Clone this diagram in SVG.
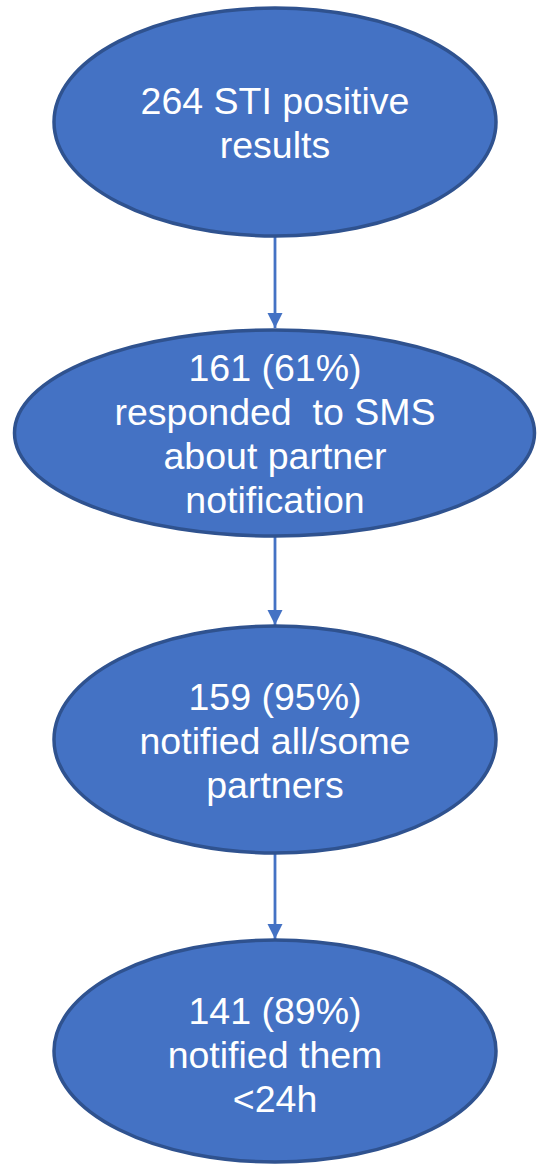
<svg xmlns="http://www.w3.org/2000/svg" width="537" height="1167" viewBox="0 0 537 1167">
<style>
.node{fill:#4472C4;stroke:#2F528F;stroke-width:3.5}
.lbl{font-family:"Liberation Sans",Arial,sans-serif;font-size:37.5px;fill:#FFFFFF;text-anchor:middle}
.conn{stroke:#4472C4;stroke-width:2.8;fill:none}
</style>
<defs>
<marker id="arr" viewBox="0 0 10 10" refX="10" refY="5" markerWidth="5.4" markerHeight="5.4" markerUnits="strokeWidth" orient="auto">
<path d="M0,0 L10,5 L0,10 Z" fill="#4472C4"/>
</marker>
</defs>
<g id="connectors">
<line class="conn" x1="275" y1="237" x2="275" y2="328" marker-end="url(#arr)"/>
<line class="conn" x1="275" y1="537" x2="275" y2="625" marker-end="url(#arr)"/>
<line class="conn" x1="275" y1="854" x2="275" y2="939" marker-end="url(#arr)"/>
</g>
<g id="node1">
<ellipse class="node" cx="275" cy="122" rx="221" ry="114"/>
<text class="lbl" x="275" y="114">264 STI positive</text>
<text class="lbl" x="275" y="158">results</text>
</g>
<g id="node2">
<ellipse class="node" cx="274.5" cy="433" rx="260" ry="103"/>
<text class="lbl" x="275" y="381">161 (61%)</text>
<text class="lbl" x="275" y="425" xml:space="preserve">responded  to SMS</text>
<text class="lbl" x="275" y="469">about partner</text>
<text class="lbl" x="275" y="513">notification</text>
</g>
<g id="node3">
<ellipse class="node" cx="275" cy="739.5" rx="221" ry="113.5"/>
<text class="lbl" x="275" y="710">159 (95%)</text>
<text class="lbl" x="275" y="754">notified all/some</text>
<text class="lbl" x="275" y="798">partners</text>
</g>
<g id="node4">
<ellipse class="node" cx="275" cy="1051" rx="221" ry="111"/>
<text class="lbl" x="275" y="1024">141 (89%)</text>
<text class="lbl" x="275" y="1068">notified them</text>
<text class="lbl" x="275" y="1112">&lt;24h</text>
</g>
</svg>
